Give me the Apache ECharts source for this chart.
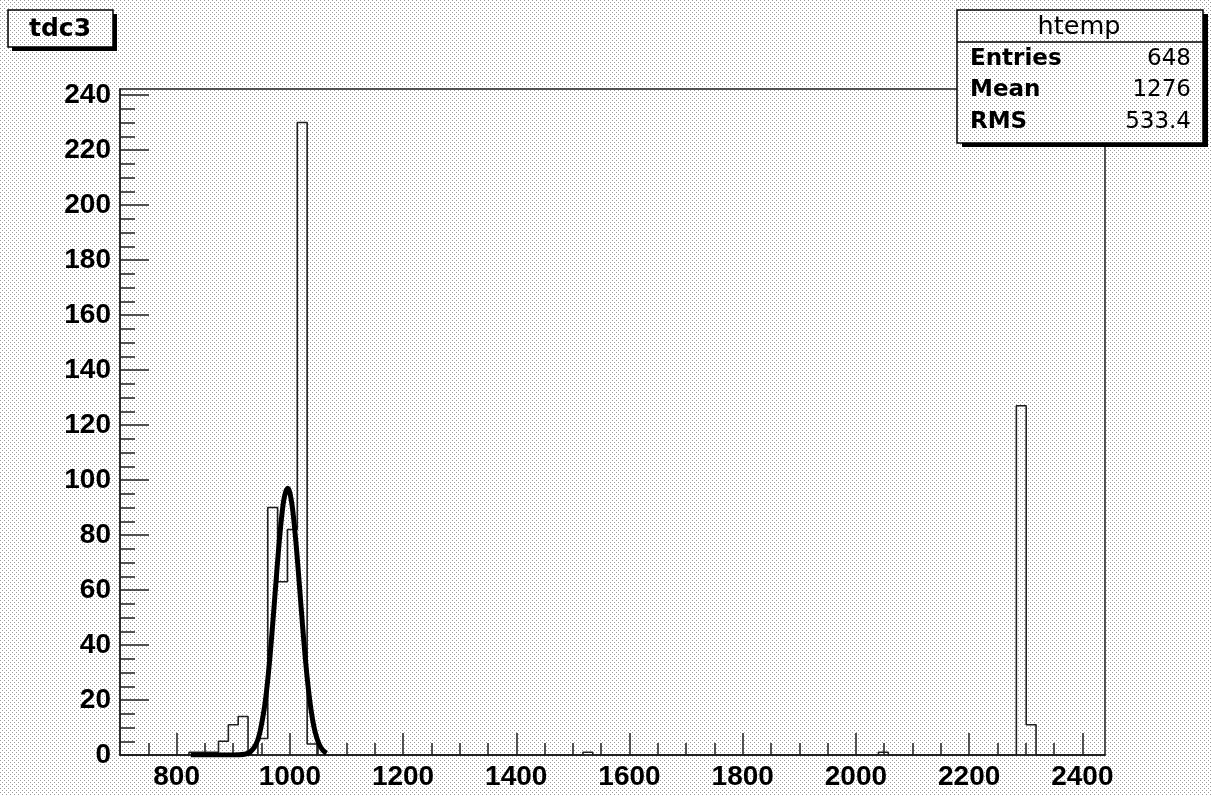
<!DOCTYPE html>
<html><head><meta charset="utf-8">
<script src="https://cdn.jsdelivr.net/npm/echarts@6/dist/echarts.min.js"></script>
<style>html,body{margin:0;padding:0;background:#fff}#c{width:1212px;height:796px}</style>
</head><body><div id="c"></div>
<script>
// ---- data ----
const titleText = 'tdc3';
const statsName = 'htemp';
const statsLabels = ['Entries', 'Mean', 'RMS'];
const statsValues = ['648', '1276', '533.4'];
const xMin = 700, xMax = 2440;
const yMin = 0, yMax = 242.2;
const binStart = 700;
const binWidth = 17.4;
const binCounts = [
  0, 0, 0, 0, 0, 0, 0, 1, 1, 1,
  5, 11, 14, 0, 6, 90, 63, 82, 230, 4,
  0, 0, 0, 0, 0, 0, 0, 0, 0, 0,
  0, 0, 0, 0, 0, 0, 0, 0, 0, 0,
  0, 0, 0, 0, 0, 0, 0, 1, 0, 0,
  0, 0, 0, 0, 0, 0, 0, 0, 0, 0,
  0, 0, 0, 0, 0, 0, 0, 0, 0, 0,
  0, 0, 0, 0, 0, 0, 0, 1, 0, 0,
  0, 0, 0, 0, 0, 0, 0, 0, 0, 0,
  0, 127, 11, 0, 0, 0, 0, 0, 0, 0
];
const xTicks = [800, 1000, 1200, 1400, 1600, 1800, 2000, 2200, 2400];
const yTicks = [0, 20, 40, 60, 80, 100, 120, 140, 160, 180, 200, 220, 240];
// fitted gaussian curve
const fitX = [825, 850, 875, 900, 920, 930, 940, 947, 955, 960, 965, 970, 975, 980, 985, 990, 996, 1000, 1005, 1010, 1015, 1020, 1025, 1030, 1035, 1040, 1045, 1050, 1055, 1060, 1065];
const fitY = [0, 0, 0, 0, 0.3, 1.1, 3.8, 8.1, 17.1, 25.4, 35.9, 48.3, 61.5, 74.5, 85.6, 93.5, 97, 95.4, 89.2, 79.2, 66.8, 53.5, 40.7, 29.4, 20.2, 13.1, 8.1, 4.8, 2.7, 1.4, 0.7];

// ---- build series ----
const histPts = [[binStart, 0]];
binCounts.forEach((c, i) => {
  histPts.push([binStart + i * binWidth, c]);
  histPts.push([binStart + (i + 1) * binWidth, c]);
});
histPts.push([binStart + binCounts.length * binWidth, 0]);
const fitPts = fitX.map((x, i) => [x, fitY[i]]);

const xMinor = [], yMinor = [];
for (let v = 750; v <= 2400; v += 50) if (v % 200 !== 0) xMinor.push(v);
for (let v = 5; v <= 240; v += 5) if (v % 20 !== 0) yMinor.push(v);

// dotted background pattern
const pc = document.createElement('canvas');
pc.width = 4; pc.height = 4;
const pctx = pc.getContext('2d');
pctx.fillStyle = '#ffffff'; pctx.fillRect(0, 0, 4, 4);
pctx.fillStyle = '#9a9a9a';
pctx.fillRect(0, 0, 1, 1); pctx.fillRect(2, 2, 1, 1);
const pattern = { image: pc, repeat: 'repeat' };

const lineCol = '#1e1e1e';
const tickFont = { fontFamily: 'Liberation Sans', fontWeight: 'bold', fontSize: 28, color: '#000', formatter: v => String(v) };
const boxFont = 'bold 23px "DejaVu Sans"';

const chart = echarts.init(document.getElementById('c'), null, { renderer: 'canvas' });
chart.setOption({
  animation: false,
  backgroundColor: pattern,
  grid: { left: 120, right: 107, top: 89, bottom: 41, show: true, borderColor: lineCol, borderWidth: 1.5, backgroundColor: 'transparent' },
  xAxis: [
    { type: 'value', min: xMin, max: xMax, position: 'bottom',
      axisLine: { onZero: false, lineStyle: { color: lineCol, width: 1.5 } },
      splitLine: { show: false },
      axisTick: { inside: true, length: 22, customValues: xTicks, lineStyle: { color: lineCol, width: 1.5 } },
      axisLabel: Object.assign({ customValues: xTicks, margin: 8 }, tickFont) },
    { type: 'value', min: xMin, max: xMax, position: 'bottom',
      axisLine: { show: false, onZero: false },
      splitLine: { show: false },
      axisTick: { inside: true, length: 12, customValues: xMinor, lineStyle: { color: lineCol, width: 1.5 } },
      axisLabel: { show: false } }
  ],
  yAxis: [
    { type: 'value', min: yMin, max: yMax, position: 'left',
      axisLine: { show: true, onZero: false, lineStyle: { color: lineCol, width: 1.5 } },
      splitLine: { show: false },
      axisTick: { show: true, inside: true, length: 29, customValues: yTicks, lineStyle: { color: lineCol, width: 1.5 } },
      axisLabel: Object.assign({ customValues: yTicks, margin: 9 }, tickFont) },
    { type: 'value', min: yMin, max: yMax, position: 'left',
      axisLine: { show: false, onZero: false },
      splitLine: { show: false },
      axisTick: { show: true, inside: true, length: 15, customValues: yMinor, lineStyle: { color: lineCol, width: 1.5 } },
      axisLabel: { show: false } }
  ],
  series: [
    { type: 'line', data: histPts, xAxisIndex: 0, yAxisIndex: 0, showSymbol: false, symbol: 'none',
      lineStyle: { color: lineCol, width: 1.6 }, z: 2 },
    { type: 'line', data: fitPts, xAxisIndex: 0, yAxisIndex: 0, showSymbol: false, symbol: 'none', smooth: 0.3,
      lineStyle: { color: '#000', width: 5 }, z: 3 }
  ],
  graphic: [
    // title box
    { type: 'rect', shape: { x: 12, y: 14, width: 105, height: 37 }, style: { fill: '#000' }, z: 10 },
    { type: 'rect', shape: { x: 8, y: 10, width: 105, height: 37 }, style: { fill: pattern, stroke: '#000', lineWidth: 1.5 }, z: 11 },
    { type: 'text', x: 60, y: 29, style: { text: titleText, font: 'bold 25px "DejaVu Sans"', fill: '#000', align: 'center', verticalAlign: 'middle' }, z: 12 },
    // stats box
    { type: 'rect', shape: { x: 962, y: 14, width: 246, height: 133 }, style: { fill: '#000' }, z: 10 },
    { type: 'rect', shape: { x: 957, y: 10, width: 246, height: 133 }, style: { fill: pattern, stroke: '#000', lineWidth: 1.5 }, z: 11 },
    { type: 'line', shape: { x1: 957, y1: 42, x2: 1203, y2: 42 }, style: { stroke: '#000', lineWidth: 1.5 }, z: 12 },
    { type: 'text', x: 1079, y: 27, style: { text: statsName, font: '25.5px "DejaVu Sans"', fill: '#000', align: 'center', verticalAlign: 'middle' }, z: 12 },
    ...statsLabels.map((t, i) => ({ type: 'text', x: 970, y: 59 + i * 31.5, style: { text: t, font: boxFont, fill: '#000', align: 'left', verticalAlign: 'middle' }, z: 12 })),
    ...statsValues.map((t, i) => ({ type: 'text', x: 1191, y: 59 + i * 31.5, style: { text: t, font: '23px "DejaVu Sans"', fill: '#000', align: 'right', verticalAlign: 'middle' }, z: 12 }))
  ]
});
</script>
</body></html>
